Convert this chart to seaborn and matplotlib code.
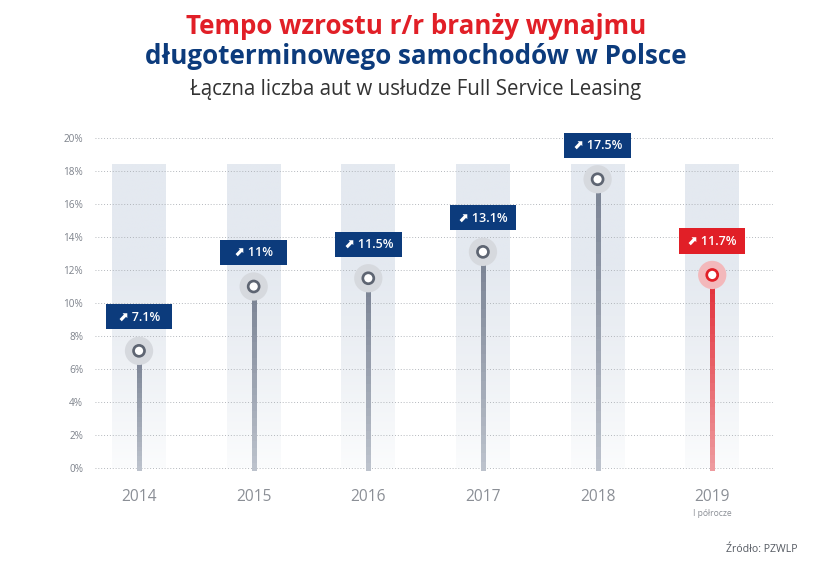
import numpy as np
import matplotlib
matplotlib.use("Agg")
import matplotlib.pyplot as plt
import seaborn as sns
from matplotlib.colors import LinearSegmentedColormap, to_rgb
from matplotlib.patches import Rectangle
from matplotlib.collections import LineCollection

years = ["2014", "2015", "2016", "2017", "2018", "2019"]
growth = [7.1, 11.0, 11.5, 13.1, 17.5, 11.7]
labels = ["7.1%", "11%", "11.5%", "13.1%", "17.5%", "11.7%"]
highlight = [False, False, False, False, False, True]
y_ticks = [0, 2, 4, 6, 8, 10, 12, 14, 16, 18, 20]

NAVY = "#0c3b7c"
RED = "#e11f27"

sns.set_style("white")
plt.rcParams["font.family"] = ["Open Sans", "DejaVu Sans"]

fig = plt.figure(figsize=(832 / 72, 573 / 72), dpi=72)
# axes placed so 0% sits at y=468px and 20% at y=138px
px_per = 16.5
top_lim, bot_lim = 20.5, -0.3
ax_top = 138 - (top_lim - 20) * px_per
ax_bot = 468 + (0 - bot_lim) * px_per
ax = fig.add_axes([95 / 832, 1 - ax_bot / 573, (773 - 95) / 832, (ax_bot - ax_top) / 573])

x = np.arange(len(years))
ax.set_xlim(-0.384, 5.53)
ax.set_ylim(bot_lim, top_lim)

# background columns with vertical fade
col_cmap = LinearSegmentedColormap.from_list("col", ["#fbfcfd", "#eef1f5", "#e4e9f0", "#e4e9f0"])
grad = np.linspace(0, 1, 256).reshape(-1, 1)
for xi in x:
    ax.imshow(grad, cmap=col_cmap, origin="lower", aspect="auto",
              extent=(xi - 0.235, xi + 0.235, 0, 18.4), zorder=0)

ax.set_yticks(y_ticks)
ax.set_yticklabels([f"{t}%" for t in y_ticks])
ax.grid(axis="y", color="#a9adb3", linestyle=(0, (1, 2.2)), linewidth=0.9)
ax.grid(axis="x", visible=False)
ax.set_axisbelow(True)

# stems with a light fade toward the bottom
for xi, v, hl in zip(x, growth, highlight):
    ys = np.linspace(0, v, 25)
    segs = [[(xi, ys[i]), (xi, ys[i + 1])] for i in range(len(ys) - 1)]
    if hl:
        c0, c1 = np.array(to_rgb("#ee9a9e")), np.array(to_rgb("#e2303a"))
    else:
        c0, c1 = np.array(to_rgb("#bcc2cc")), np.array(to_rgb("#7a8394"))
    t = np.linspace(0, 1, len(segs)).reshape(-1, 1)
    cols = c0 * (1 - t) + c1 * t
    ax.add_collection(LineCollection(segs, colors=cols, linewidths=3.2, zorder=2,
                                     capstyle="projecting", antialiaseds=False))

halo_cols = ["#f3b8bb" if h else "#d6d9de" for h in highlight]
ring_cols = [RED if h else "#5e6572" for h in highlight]
sns.scatterplot(x=x, y=growth, s=800, c=halo_cols, linewidth=0, ax=ax, zorder=3, legend=False)
sns.scatterplot(x=x, y=growth, s=120, c=["white"] * len(x), edgecolor=ring_cols, linewidth=2.7,
                ax=ax, zorder=4, legend=False)

# value boxes
for xi, v, lab, hl in zip(x, growth, labels, highlight):
    ax.add_patch(Rectangle((xi - 0.29, v + 1.3), 0.58, 1.52, facecolor=RED if hl else NAVY,
                           edgecolor="none", zorder=5))
    ax.text(xi, v + 1.3 + 0.76, "⬈ " + lab, ha="center", va="center", color="white",
            fontsize=12.5, fontweight="semibold", zorder=6, family=["Open Sans", "DejaVu Sans"])

ax.set_xticks(x)
ax.set_xticklabels(years)
ax.tick_params(axis="x", length=0, pad=16, labelsize=15.5, labelcolor="#8b8f96")
ax.tick_params(axis="y", length=0, pad=12, labelsize=10, labelcolor="#7d828b")
for s in ax.spines.values():
    s.set_visible(False)

ax.text(5, -2.75, "I półrocze", ha="center", va="center", fontsize=8.5, color="#8b8f96")

fig.text(0.5, 1 - 27 / 573, "Tempo wzrostu r/r branży wynajmu", ha="center", va="center",
         fontsize=26, fontweight="bold", color=RED)
fig.text(0.5, 1 - 57 / 573, "długoterminowego samochodów w Polsce", ha="center", va="center",
         fontsize=26, fontweight="bold", color=NAVY)
fig.text(0.5, 1 - 89 / 573, "Łączna liczba aut w usłudze Full Service Leasing", ha="center", va="center",
         fontsize=20.5, color="#333333")
fig.text(797 / 832, 1 - 549 / 573, "Źródło: PZWLP", ha="right", va="center", fontsize=10.5, color="#555a62")

fig.savefig("out.png", dpi=72, facecolor="white")
